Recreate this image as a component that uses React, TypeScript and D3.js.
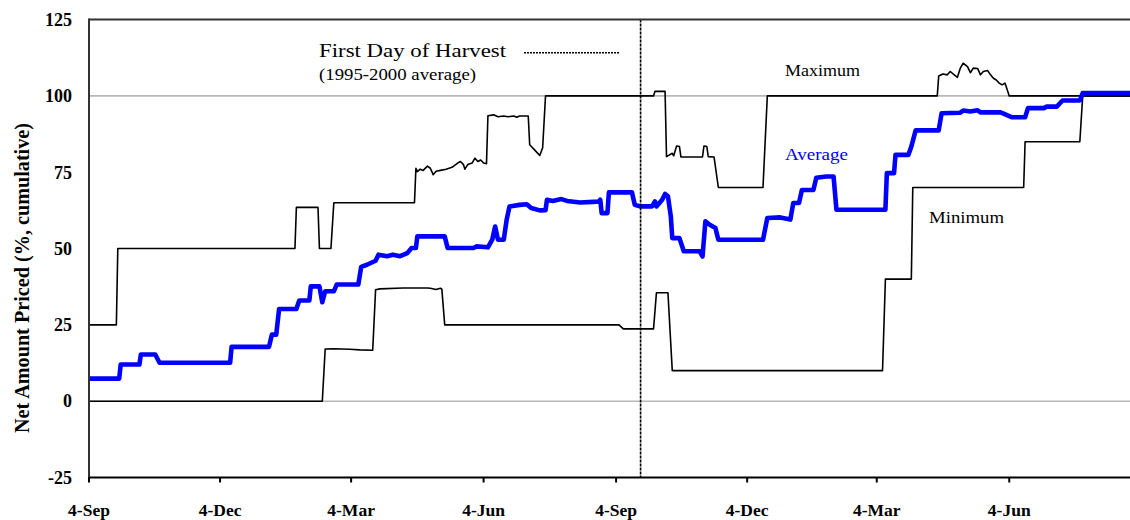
import React from "react";
import * as d3 from "d3";

// ---- data (x = days since 4-Sep-1999, y = % priced, cumulative) ----
const startDate = new Date(1999, 8, 4);
const endDate = new Date(2001, 7, 31);
const harvestDay = 383; // first day of harvest (1995-2000 average), ~22-Sep

const xTickDates = [
  new Date(1999, 8, 4), new Date(1999, 11, 4), new Date(2000, 2, 4), new Date(2000, 5, 4),
  new Date(2000, 8, 4), new Date(2000, 11, 4), new Date(2001, 2, 4), new Date(2001, 5, 4),
];
const xTickLabels = ["4-Sep", "4-Dec", "4-Mar", "4-Jun", "4-Sep", "4-Dec", "4-Mar", "4-Jun"];
const yTicks = [-25, 0, 25, 50, 75, 100, 125];
const refLines = [0, 100];

const maximum: [number, number][] = [
  [0, 25], [19, 25], [20, 50], [143, 50], [144, 63.5], [159, 63.5], [160, 50], [168, 50], [170, 65],
  [226, 65], [227, 76.3], [228, 75.2], [230, 76], [232, 75.6], [235, 77], [237, 76.3], [239, 74.2],
  [241, 75.3], [244, 75.6], [248, 76], [252, 76.6], [256, 78], [258, 78.5], [260, 77.5], [261, 76],
  [263, 77.5], [266, 78], [268, 79.6], [270, 78.5], [272, 79], [274, 78], [276, 77.8], [277, 93.5],
  [281, 93.8], [284, 93.2], [288, 93.4], [291, 93.2], [295, 93.4], [297, 93], [299, 93.4], [305, 93.4],
  [306, 84], [311, 81.5], [313, 80.5], [315, 83], [317, 100], [392, 100], [393, 101.5], [400, 101.5],
  [401, 80.1], [405, 81.2], [406, 80.4], [408, 83.6], [410, 83.4], [411, 80], [426, 80], [427, 83.6],
  [429, 83.4], [430, 80.1], [434, 80], [437, 70], [468, 70], [471, 100], [589, 100], [590, 106.5],
  [593, 107.2], [596, 106.9], [598, 108], [600, 107.2], [603, 106.1], [605, 109.1], [607, 110.7],
  [610, 109.6], [612, 107.6], [614, 109.1], [617, 109], [619, 106.9], [621, 108], [624, 108.3],
  [626, 106.9], [628, 105.8], [630, 105.2], [632, 104.2], [634, 103.6], [636, 104.2], [637, 102.8],
  [639, 100], [727, 100],
];

const minimum: [number, number][] = [
  [0, 0], [162, 0], [164, 17.1], [170, 17.2], [181, 17], [188, 16.8], [197, 16.7], [199, 36.5],
  [202, 36.8], [218, 37.1], [235, 37.1], [237, 37], [241, 36.6], [244, 37], [245, 36.7], [247, 25],
  [368, 25], [371, 23.7], [392, 23.7], [394, 35.5], [402, 35.5], [405, 10], [551, 10], [553, 40],
  [571, 40], [572, 70], [649, 70], [650, 85], [688, 85], [690, 100], [727, 100],
];

const average: [number, number][] = [
  [0, 7.4], [21, 7.4], [22, 12], [35, 12], [36, 15.3], [46, 15.3], [49, 12.6], [98, 12.6], [99, 17.8],
  [125, 17.8], [127, 21.8], [130, 21.8], [132, 30.2], [144, 30.2], [146, 33], [153, 33], [154, 37.6],
  [160, 37.6], [162, 32.4], [164, 36], [170, 36], [172, 38.2], [187, 38.2], [189, 44], [193, 44.7],
  [199, 46], [201, 48], [207, 47.5], [211, 48], [216, 47.5], [221, 48.5], [224, 50.2], [227, 50.2],
  [228, 54], [247, 54], [249, 50.2], [267, 50.2], [269, 50.7], [277, 50.4], [280, 52.9], [282, 57.2],
  [284, 52.9], [288, 52.9], [290, 59.4], [292, 63.8], [299, 64.3], [304, 64.5], [307, 63.3], [313, 62.5],
  [317, 62.6], [318, 66], [322, 65.6], [328, 66.2], [332, 65.6], [341, 65.1], [350, 65.3], [354, 65.4],
  [355, 66], [356, 61.6], [360, 61.6], [361, 68.4], [377, 68.4], [379, 64.3], [383, 63.8], [391, 63.8],
  [393, 65.4], [394, 63.8], [398, 66], [400, 67.9], [402, 67.1], [404, 60.5], [405, 53.4], [410, 53.4],
  [413, 49.1], [424, 49.1], [426, 47.4], [428, 58.9], [431, 57.8], [435, 56.7], [437, 52.9], [468, 52.9],
  [471, 60], [480, 60.2], [487, 59.5], [489, 64.9], [493, 64.9], [495, 69.2], [503, 69.2], [505, 73.2],
  [512, 73.6], [517, 73.6], [519, 62.7], [553, 62.7], [554, 74.7], [559, 74.7], [560, 80.7], [569, 80.7],
  [571, 83.4], [574, 88.7], [590, 88.7], [592, 94.3], [605, 94.5], [607, 95.2], [612, 94.9], [617, 95.3],
  [619, 94.6], [633, 94.6], [637, 93.8], [641, 93], [650, 93], [652, 96], [663, 96], [665, 96.5],
  [672, 96.5], [676, 98.5], [688, 98.5], [690, 100.9], [727, 100.9],
];

const W = 1130;
const H = 520;
const FONT = "'Liberation Serif', 'Times New Roman', serif";

export default function App() {
  const left = 89;
  const top = 19.6;
  const bottom = 477.5;
  const x = d3.scaleTime().domain([startDate, endDate]).range([left, 1136]);
  const y = d3.scaleLinear().domain([-25, 125]).range([bottom, top]);
  const day = (d: number) => d3.timeDay.offset(startDate, d);
  const line = d3
    .line<[number, number]>()
    .x((p) => x(day(p[0])))
    .y((p) => y(p[1]));
  const hx = x(day(harvestDay));

  return (
    <svg
      width={W}
      height={H}
      style={{ position: "absolute", left: 0, top: 0, background: "#fff" }}
      fontFamily={FONT}
    >
      <defs>
        <clipPath id="plot">
          <rect x={left} y={top - 5} width={W - left} height={bottom - top + 5} />
        </clipPath>
      </defs>
      {/* reference lines at 0 and 100 */}
      {refLines.map((v) => (
        <line key={v} x1={left} x2={W} y1={y(v)} y2={y(v)} stroke="#b8b8b8" strokeWidth={1.6} />
      ))}
      <g clipPath="url(#plot)" fill="none" strokeLinejoin="round">
        <path d={line(maximum) || ""} stroke="#000" strokeWidth={1.6} />
        <path d={line(minimum) || ""} stroke="#000" strokeWidth={1.6} />
        <path d={line(average) || ""} stroke="#0000ff" strokeWidth={4.6} />
      </g>
      {/* first day of harvest */}
      <line x1={hx} x2={hx} y1={top} y2={bottom} stroke="#000" strokeWidth={1.6} strokeDasharray="3 1" />
      {/* frame */}
      <line x1={left} x2={W} y1={top} y2={top} stroke="#333" strokeWidth={2} />
      <line x1={left} x2={left} y1={top - 1} y2={bottom + 1} stroke="#333" strokeWidth={2} />
      <line x1={left} x2={W} y1={bottom} y2={bottom} stroke="#000" strokeWidth={2} />
      {/* x ticks */}
      {xTickDates.map((d, i) => (
        <g key={i}>
          <line x1={x(d)} x2={x(d)} y1={bottom} y2={bottom + 5} stroke="#000" strokeWidth={2} />
          <text x={x(d)} y={516} textAnchor="middle" fontWeight="bold" fontSize={17.5}>
            {xTickLabels[i]}
          </text>
        </g>
      ))}
      {/* y ticks */}
      {yTicks.map((v) => (
        <text key={v} x={72} y={y(v) + 6.3} textAnchor="end" fontWeight="bold" fontSize={18}>
          {v}
        </text>
      ))}
      <text
        transform={`translate(29,${278}) rotate(-90)`}
        textAnchor="middle"
        fontWeight="bold"
        fontSize={21}
        textLength={310}
        lengthAdjust="spacingAndGlyphs"
      >
        Net Amount Priced (%, cumulative)
      </text>
      {/* legend / annotations */}
      <text x={319} y={57} fontSize={19} textLength={187} lengthAdjust="spacingAndGlyphs">
        First Day of Harvest
      </text>
      <line x1={524} x2={619} y1={52.7} y2={52.7} stroke="#000" strokeWidth={1.5} strokeDasharray="2 1" />
      <text x={319} y={80} fontSize={16.5} textLength={157} lengthAdjust="spacingAndGlyphs">
        (1995-2000 average)
      </text>
      <text x={785} y={76} fontSize={17} textLength={75} lengthAdjust="spacingAndGlyphs">
        Maximum
      </text>
      <text x={785} y={160} fontSize={17} fill="#0000ff" textLength={63} lengthAdjust="spacingAndGlyphs">
        Average
      </text>
      <text x={929} y={223} fontSize={17} textLength={75} lengthAdjust="spacingAndGlyphs">
        Minimum
      </text>
    </svg>
  );
}
